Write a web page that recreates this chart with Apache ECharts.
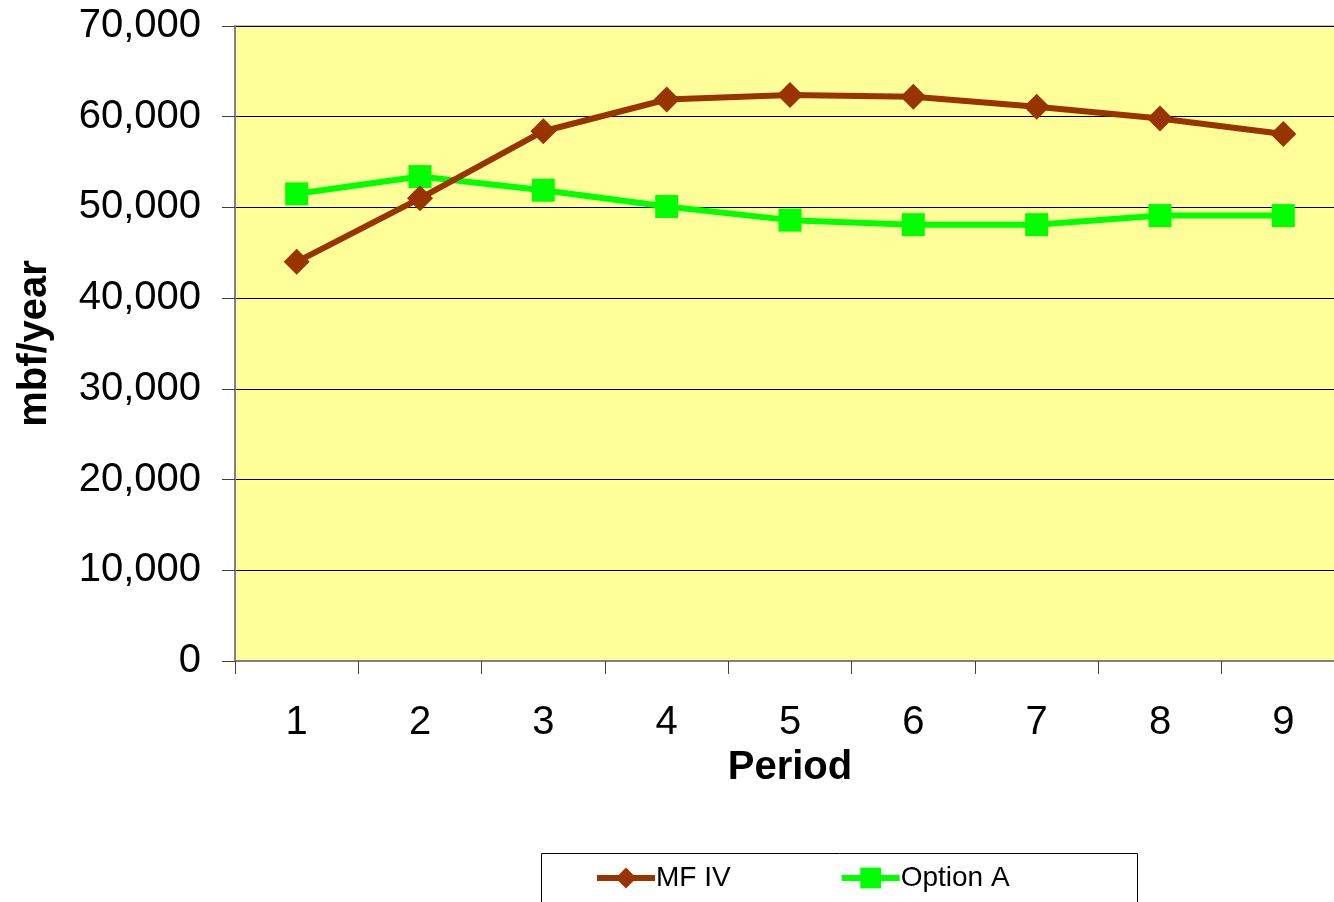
<!DOCTYPE html>
<html><head><meta charset="utf-8">
<script src="https://cdn.jsdelivr.net/npm/echarts@6/dist/echarts.min.js"></script>
<style>html,body{margin:0;padding:0;background:#fff}#c{width:1334px;height:902px}</style>
</head><body><div id="c"></div>
<script>
const categories = ['1','2','3','4','5','6','7','8','9'];
const mfIV = [44000, 51000, 58400, 61900, 62400, 62200, 61100, 59800, 58100];
const optionA = [51500, 53400, 51900, 50100, 48600, 48100, 48100, 49100, 49100];
const seriesNames = ['MF IV', 'Option A'];
const yMin = 0, yMax = 70000, yStep = 10000;

const FONT = '"Liberation Sans", Arial, sans-serif';
const chart = echarts.init(document.getElementById('c'), null, {renderer: 'canvas'});
chart.setOption({
  animation: false,
  backgroundColor: '#ffffff',
  grid: {left: 235, top: 26, width: 1110, height: 635, show: true, outerBoundsMode: 'none',
         containLabel: false,
         backgroundColor: '#FFFF99', borderColor: '#808080', borderWidth: 1},
  graphic: [{type: 'rect', left: 541, top: 853, z: -1,
             shape: {width: 596, height: 80},
             style: {fill: '#ffffff', stroke: '#000000', lineWidth: 1}}],
  legend: {
    left: 594, top: 864, padding: 0, itemWidth: 58, itemHeight: 26, itemGap: 108,
    lineStyle: {width: 6},
    textStyle: {fontFamily: FONT, fontSize: 28, color: '#000', padding: [0,0,0,-4]},
    data: seriesNames
  },
  xAxis: {
    type: 'category', data: categories, boundaryGap: true,
    name: 'Period', nameLocation: 'middle', nameGap: 86,
    nameTextStyle: {fontFamily: FONT, fontSize: 40, fontWeight: 'bold', color: '#000'},
    axisLine: {lineStyle: {color: '#808080', width: 2}},
    axisTick: {show: true, inside: false, length: 13, lineStyle: {color: '#404040'}},
    axisLabel: {fontFamily: FONT, fontSize: 40, color: '#000', margin: 42}
  },
  yAxis: {
    type: 'value', min: yMin, max: yMax, interval: yStep,
    name: 'mbf/year', nameLocation: 'middle', nameGap: 180,
    nameTextStyle: {fontFamily: FONT, fontSize: 40, fontWeight: 'bold', color: '#000'},
    axisLine: {show: true, lineStyle: {color: '#808080', width: 2}},
    axisTick: {show: true, inside: false, length: 13, lineStyle: {color: '#404040'}},
    splitLine: {show: true, lineStyle: {color: '#000', width: 1}},
    axisLabel: {fontFamily: FONT, fontSize: 40, color: '#000', margin: 34,
      formatter: v => v.toLocaleString('en-US')}
  },
  series: [
    {name: seriesNames[0], type: 'line', data: mfIV, z: 4,
     symbol: 'diamond', symbolSize: 26,
     lineStyle: {color: '#993300', width: 6},
     itemStyle: {color: '#993300'}},
    {name: seriesNames[1], type: 'line', data: optionA, z: 3,
     symbol: 'rect', symbolSize: 23,
     lineStyle: {color: '#00FF00', width: 6},
     itemStyle: {color: '#00FF00'}}
  ]
});
</script></body></html>
